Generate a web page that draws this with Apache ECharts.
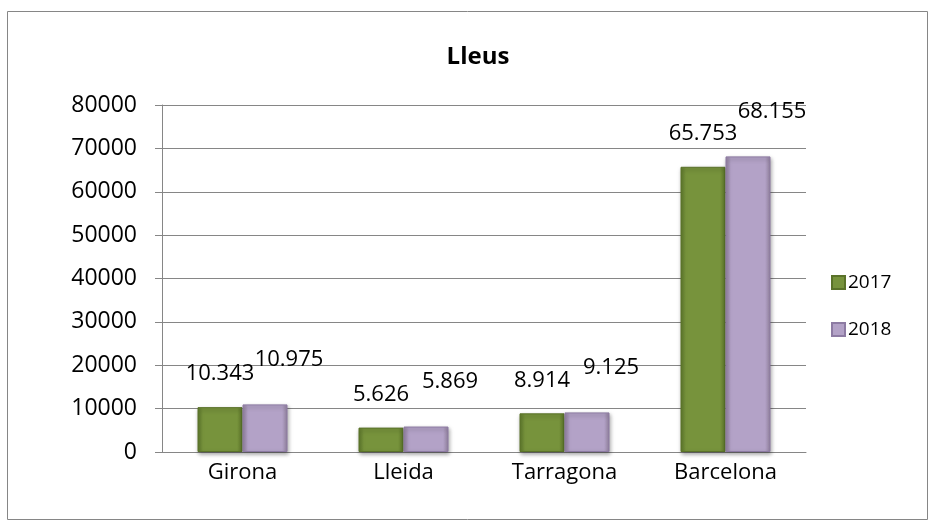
<!DOCTYPE html>
<html>
<head>
<meta charset="utf-8">
<script src="https://cdn.jsdelivr.net/npm/echarts@6/dist/echarts.min.js"></script>
<style>
html, body { margin: 0; padding: 0; background: #fff; }
#chart { width: 936px; height: 529px; }
</style>
</head>
<body>
<div id="chart"></div>
<script>
// dades
var categories = ["Girona", "Lleida", "Tarragona", "Barcelona"];
var years = ["2017", "2018"];
var v2017 = [10343, 5626, 8914, 65753];
var v2018 = [10975, 5869, 9125, 68155];
var yMin = 0, yMax = 80000, yStep = 10000;

var font = "'Open Sans', 'Liberation Sans', sans-serif";

// separador de milers amb punt
function fmt(v) {
  return String(v).replace(/\B(?=(\d{3})+(?!\d))/g, ".");
}

function bevel(base, dark) {
  return new echarts.graphic.LinearGradient(0, 0, 1, 0, [
    { offset: 0, color: dark },
    { offset: 0.12, color: base },
    { offset: 0.88, color: base },
    { offset: 1, color: dark }
  ]);
}

var chart = echarts.init(document.getElementById("chart"));
var option = {
  animation: false,
  title: {
    text: "Lleus",
    left: 473,
    textAlign: "center",
    top: 40,
    textStyle: { fontFamily: font, fontSize: 24, fontWeight: "bold", color: "#000" }
  },
  graphic: [
    {
      type: "rect",
      shape: { x: 7.5, y: 11.5, width: 920, height: 508 },
      style: { fill: "none", stroke: "#868686", lineWidth: 1 }
    }
  ],
  legend: {
    orient: "vertical",
    left: 826,
    top: 268,
    itemWidth: 13,
    itemHeight: 13,
    itemGap: 28,
    icon: "rect",
    textStyle: { fontFamily: font, fontSize: 19, color: "#000", padding: [0, 0, 0, -2] },
    data: years
  },
  grid: { left: 162, right: 130, top: 105, bottom: 77 },
  xAxis: {
    type: "category",
    data: categories,
    axisLine: { show: true, lineStyle: { color: "#868686", width: 1 } },
    axisTick: { show: false },
    axisLabel: { fontFamily: font, fontSize: 22, color: "#000", margin: 10 }
  },
  yAxis: {
    type: "value",
    min: yMin,
    max: yMax,
    interval: yStep,
    axisLine: { show: true, lineStyle: { color: "#868686", width: 1 } },
    axisTick: { show: true, length: 7, lineStyle: { color: "#868686" } },
    splitLine: { lineStyle: { color: "#868686", width: 1 } },
    axisLabel: {
      fontFamily: font, fontSize: 23, color: "#000", margin: 25,
      formatter: function (v) { return String(v); }
    }
  },
  series: [
    {
      name: years[0],
      type: "bar",
      data: v2017,
      barWidth: 45,
      barGap: "0%",
      itemStyle: {
        color: bevel("#77933C", "#5f7a2c"),
        borderColor: "#5a7229",
        borderWidth: 1,
        shadowColor: "rgba(0,0,0,0.35)",
        shadowBlur: 4,
        shadowOffsetX: 1,
        shadowOffsetY: 2
      },
      label: {
        show: true,
        position: "top",
        distance: 22,
        offset: [0, 0],
        formatter: function (p) { return fmt(p.value); },
        fontFamily: font,
        fontSize: 22,
        color: "#000"
      }
    },
    {
      name: years[1],
      type: "bar",
      data: v2018,
      barWidth: 45,
      itemStyle: {
        color: bevel("#B3A2C7", "#93829f"),
        borderColor: "#8d7ba3",
        borderWidth: 1,
        shadowColor: "rgba(0,0,0,0.35)",
        shadowBlur: 4,
        shadowOffsetX: 1,
        shadowOffsetY: 2
      },
      label: {
        show: true,
        position: "top",
        distance: 34,
        offset: [24, 0],
        formatter: function (p) { return fmt(p.value); },
        fontFamily: font,
        fontSize: 22,
        color: "#000"
      }
    }
  ]
};
chart.setOption(option);
</script>
</body>
</html>
